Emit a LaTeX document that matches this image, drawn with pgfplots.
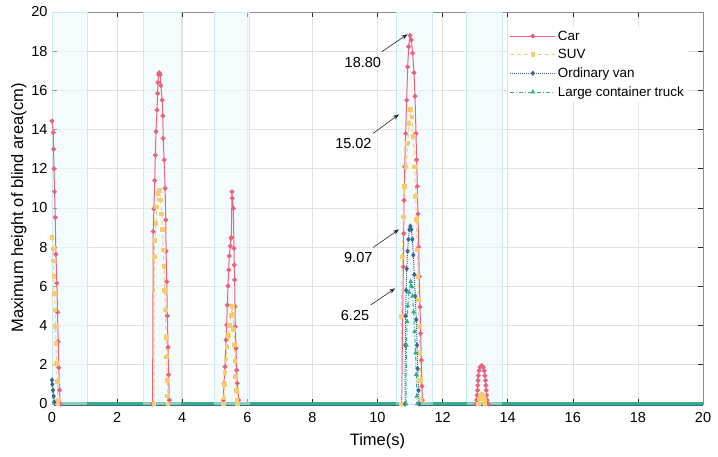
\documentclass[border=0pt]{standalone}
\usepackage{fontspec}
\setmainfont{Liberation Sans}
\usepackage{pgfplots}
\pgfplotsset{compat=1.18}
\usetikzlibrary{arrows.meta}

\definecolor{carc}{RGB}{236,97,128}
\definecolor{suvc}{RGB}{248,204,110}
\definecolor{vanc}{RGB}{60,104,152}
\definecolor{truckc}{RGB}{56,172,136}
\definecolor{winfill}{RGB}{234,248,252}
\definecolor{winedge}{RGB}{200,234,240}
\definecolor{gridc}{RGB}{226,226,226}
\tikzset{peakarrow/.style={-{Stealth[length=6pt,width=4.5pt]}, black!85, line width=0.6pt},
  band/.style={white, opacity=0.4},
  window/.style={fill=winfill, fill opacity=0.55, draw=winedge}}

\begin{document}
\begin{tikzpicture}
\useasboundingbox (-52pt,-53pt) rectangle (666pt,404pt);
\begin{axis}[
  at={(0,0)}, anchor=south west,
  width=651pt, height=392pt, scale only axis,
  xmin=0, xmax=20, ymin=0, ymax=20,
  xtick={0,2,...,20}, ytick={0,2,...,20},
  grid=major, major grid style={gridc, line width=0.6pt},
  axis line style={black!45, line width=0.6pt},
  tick style={black!85, line width=0.6pt},
  tick align=inside, major tick length=5pt,
  /pgf/number format/assume math mode=true,
  ticklabel style={font=\fontsize{14.5}{17}\selectfont},
  xticklabel shift=5pt,
  yticklabel shift=1pt,
  xlabel={Time(s)}, ylabel={Maximum height of blind area(cm)},
  label style={font=\fontsize{16.5}{19}\selectfont},
  xlabel style={yshift=-4pt},
  ylabel style={yshift=-2pt},
  unbounded coords=jump,
  clip=false,
  legend cell align=left,
  legend style={draw=none, fill=white, at={(0.700,0.963)}, anchor=north west,
    font=\fontsize{13.4}{15}\selectfont, row sep=3.6pt, inner sep=2pt},
  legend image code/.code={%
    \draw[mark repeat=2,mark phase=2] plot coordinates {(0pt,0pt) (22.5pt,0pt) (45pt,0pt)};},
]

% time windows of interest
\fill[window] (axis cs:0,0) rectangle (axis cs:1.08,20);
\fill[window] (axis cs:2.80,0) rectangle (axis cs:3.96,20);
\fill[window] (axis cs:4.97,0) rectangle (axis cs:6.07,20);
\fill[window] (axis cs:10.57,0) rectangle (axis cs:11.69,20);
\fill[window] (axis cs:12.74,0) rectangle (axis cs:13.84,20);

% Car
\addplot[carc, line width=1pt, mark=*, mark size=1.9pt, mark options={solid}] table {
x y
0 14.44
0.04 13.85
0.05 13.0
0.06 12.0
0.08 10.83
0.10 9.52
0.12 7.63
0.15 6.16
0.17 4.68
0.19 3.18
0.21 1.85
0.23 0.71
0.25 0
nan nan
3.09 0
3.11 8.8
3.13 9.95
3.155 11.4
3.175 12.7
3.195 13.9
3.225 15.0
3.245 15.85
3.255 16.4
3.275 16.8
3.295 16.9
3.325 16.8
3.345 16.25
3.385 15.5
3.405 14.7
3.415 13.55
3.445 12.45
3.475 11.0
3.495 9.4
3.505 7.8
3.525 6.24
3.545 4.5
3.565 2.9
3.585 1.5
3.605 0.2
nan nan
5.264 0.2
5.284 1.05
5.315 1.9
5.346 3.27
5.366 4.03
5.387 5.05
5.407 6.02
5.428 6.84
5.448 7.55
5.479 8.06
5.499 8.45
5.509 8.5
5.530 10.83
5.540 10.5
5.571 9.98
5.591 7.94
5.601 7.09
5.612 6.33
5.622 4.97
5.632 3.94
5.653 2.84
5.673 1.73
5.694 1.06
5.735 0.2
nan nan
10.742 0
10.773 4.45
10.794 7.0
10.804 8.7
10.814 10.4
10.835 12.1
10.865 13.8
10.896 15.5
10.927 17.2
10.957 18.23
10.998 18.80
11.039 18.57
11.080 17.9
11.121 16.9
11.152 15.7
11.183 13.8
11.203 12.45
11.224 11.1
11.244 9.7
11.265 8.0
11.285 6.5
11.306 4.95
11.326 3.6
11.347 2.24
11.367 0.9
11.377 0.2
nan nan
13.03 0
13.05 0.2
13.06 0.45
13.07 0.7
13.08 0.95
13.09 1.2
13.10 1.45
13.12 1.7
13.15 1.88
13.20 1.96
13.25 1.88
13.28 1.7
13.30 1.45
13.32 1.2
13.33 0.95
13.34 0.7
13.35 0.45
13.37 0.2
13.40 0
};
\addlegendentry{Car}

% SUV
\addplot[suvc, line width=1pt, dash pattern=on 4pt off 3pt, mark=square*, mark size=1.8pt, mark options={solid}] table {
x y
0 8.5
0.04 7.9
0.05 7.3
0.06 6.5
0.07 5.65
0.09 4.8
0.11 3.94
0.12 3.1
0.14 2.08
0.16 1.14
0.18 0.2
0.19 0
nan nan
3.134 0
3.144 7.5
3.16 8.35
3.195 9.2
3.216 10.05
3.256 10.75
3.297 10.9
3.339 10.4
3.369 9.7
3.40 8.9
3.42 7.85
3.441 7.0
3.461 5.8
3.482 4.8
3.502 3.4
3.523 2.4
3.543 1.2
3.553 0.4
3.56 0
nan nan
5.27 0
5.28 0.3
5.30 1.0
5.32 1.6
5.35 2.3
5.38 2.9
5.42 3.5
5.46 4.0
5.50 4.5
5.545 4.97
5.565 4.6
5.585 3.8
5.605 3.0
5.625 2.2
5.645 1.4
5.665 0.7
5.685 0.2
5.69 0
nan nan
10.732 0
10.735 4.45
10.763 7.5
10.794 9.55
10.835 11.1
10.876 12.1
10.927 13.3
10.968 14.3
11.019 15.02
11.060 14.65
11.101 13.65
11.142 12.1
11.172 10.6
11.193 9.4
11.224 7.86
11.244 6.5
11.265 5.3
11.285 3.94
11.306 2.6
11.326 1.22
11.337 0.2
nan nan
13.10 0
13.13 0.25
13.17 0.42
13.21 0.48
13.25 0.38
13.28 0.18
13.30 0
};
\addlegendentry{SUV}

% Ordinary van
\addplot[vanc, line width=1pt, dash pattern=on 1pt off 1pt, mark=diamond*, mark size=2pt, mark options={solid}] table {
x y
0 1.22
0.01 1.0
0.03 0.7
0.05 0.4
0.07 0.1
nan nan
10.845 0
10.855 3.0
10.865 4.5
10.88 5.8
10.90 6.9
10.925 7.8
10.95 8.4
10.98 8.9
11.01 9.07
11.04 8.9
11.07 8.4
11.10 7.6
11.13 6.6
11.16 5.5
11.19 4.3
11.215 3.0
11.235 1.8
11.26 0.7
11.275 0
};
\addlegendentry{Ordinary van}

% Large container truck
\addplot[truckc, line width=1pt, dash pattern=on 4pt off 2pt on 1pt off 2pt, mark=triangle*, mark size=1.8pt, mark options={solid}] table {
x y
10.876 0
10.89 3.0
10.91 4.2
10.93 5.0
10.97 5.7
11.02 6.25
11.05 6.0
11.08 5.5
11.11 4.7
11.14 3.7
11.17 2.6
11.19 1.5
11.21 0.4
11.22 0
};
\addlegendentry{Large container truck}

% zero-valued stretches of van and truck along the time axis
\addplot[vanc, line width=1.7pt, yshift=-1.5pt, forget plot] table {
x y
0.07 0
10.87 0
nan nan
11.28 0
20 0
};
\addplot[truckc, line width=3.2pt, yshift=0.8pt, forget plot] table {
x y
0 0
10.87 0
nan nan
11.28 0
20 0
};

% lighter band where the windows meet the axis
\fill[band] ([yshift=-0.8pt]axis cs:0,0) rectangle ([yshift=2.4pt]axis cs:1.08,0);
\fill[band] ([yshift=-0.8pt]axis cs:2.80,0) rectangle ([yshift=2.4pt]axis cs:3.96,0);
\fill[band] ([yshift=-0.8pt]axis cs:4.97,0) rectangle ([yshift=2.4pt]axis cs:6.07,0);
\fill[band] ([yshift=-0.8pt]axis cs:10.57,0) rectangle ([yshift=2.4pt]axis cs:10.87,0);
\fill[band] ([yshift=-0.8pt]axis cs:11.28,0) rectangle ([yshift=2.4pt]axis cs:11.69,0);
\fill[band] ([yshift=-0.8pt]axis cs:12.74,0) rectangle ([yshift=2.4pt]axis cs:13.84,0);

% peak annotations
\draw[peakarrow] (axis cs:10.13,17.97) -- (axis cs:10.92,18.86);
\draw[peakarrow] (axis cs:9.87,13.81) -- (axis cs:10.66,14.78);
\draw[peakarrow] (axis cs:9.87,7.99) -- (axis cs:10.66,8.91);
\draw[peakarrow] (axis cs:9.79,5.05) -- (axis cs:10.54,5.90);
\node[font=\fontsize{14.5}{17}\selectfont] at (axis cs:9.55,17.40) {18.80};
\node[font=\fontsize{14.5}{17}\selectfont] at (axis cs:9.26,13.30) {15.02};
\node[font=\fontsize{14.5}{17}\selectfont] at (axis cs:9.41,7.48) {9.07};
\node[font=\fontsize{14.5}{17}\selectfont] at (axis cs:9.31,4.54) {6.25};
\end{axis}
\end{tikzpicture}
\end{document}
